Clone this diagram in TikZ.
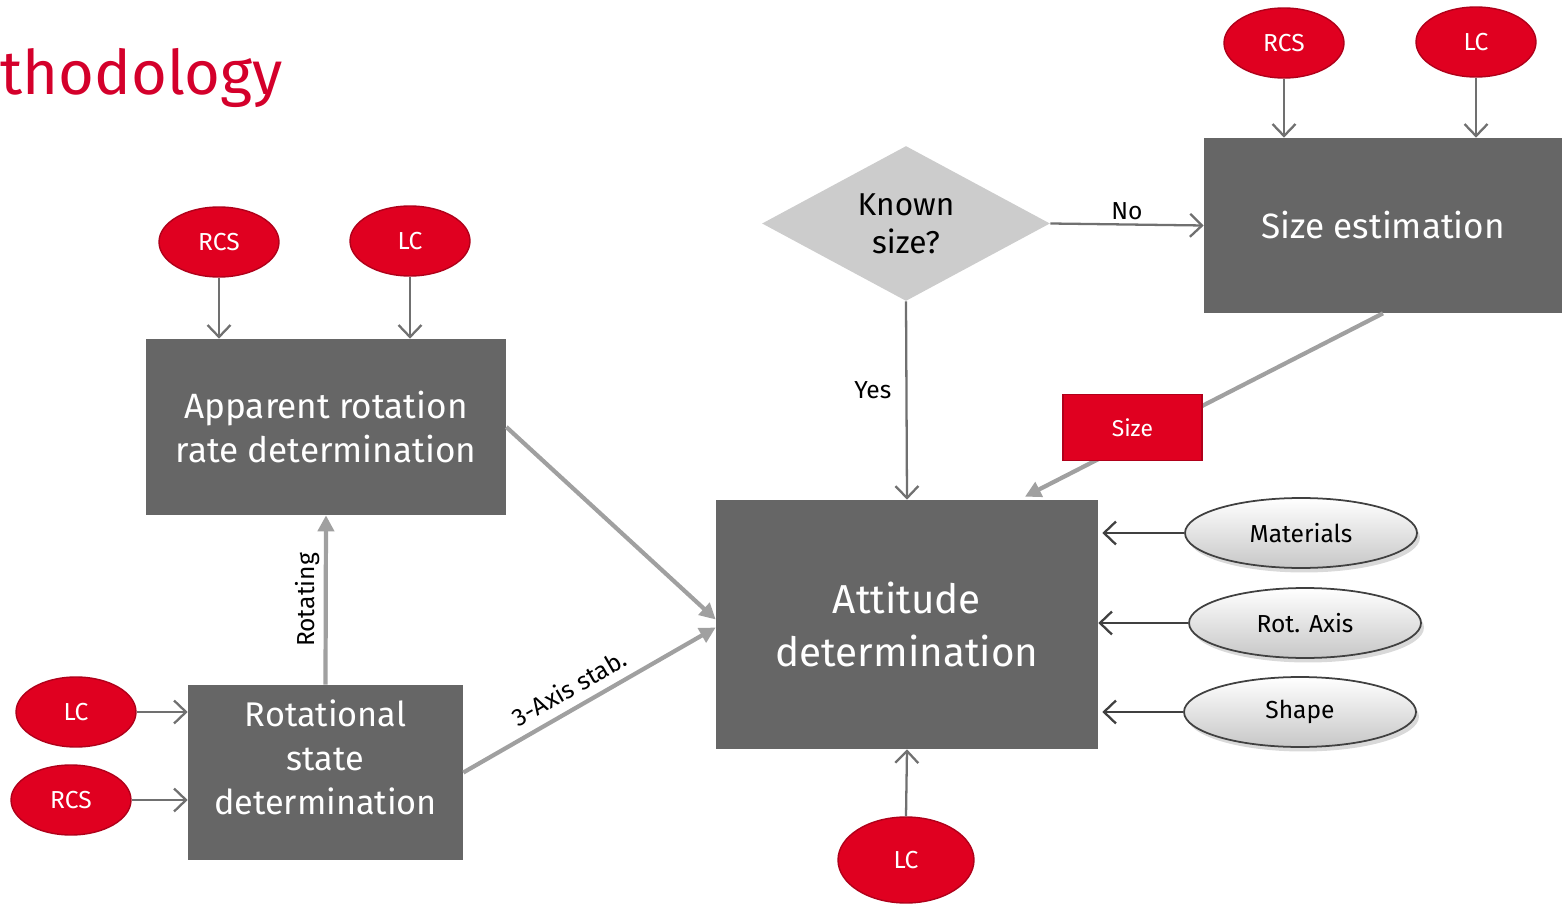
\documentclass[tikz,border=0pt]{standalone}
\usepackage{fontspec}
\setmainfont{Fira Sans}
\usetikzlibrary{shapes.geometric,arrows.meta,shadows}
\definecolor{boxgray}{HTML}{666666}
\definecolor{tagred}{HTML}{E00020}
\definecolor{tagedge}{HTML}{B0001A}
\definecolor{titlered}{HTML}{D4002B}
\definecolor{linegray}{HTML}{707070}
\definecolor{darkline}{HTML}{404040}
\definecolor{flowgray}{HTML}{A0A0A0}
\definecolor{diagray}{HTML}{CCCCCC}
\begin{document}
\begin{tikzpicture}[x=0.02cm,y=-0.02cm,
  stepbox/.style={fill=boxgray,text=white,align=center,inner sep=0pt,font=\fontsize{20}{25}\selectfont},
  tag/.style={ellipse,fill=tagred,draw=tagedge,line width=0.8pt,text=white,minimum width=2.4cm,minimum height=1.4cm,inner sep=0pt,font=\fontsize{14}{16}\selectfont},
  prop/.style={ellipse,top color=white,bottom color=black!22,draw=black!75,line width=1pt,minimum width=4.64cm,minimum height=1.4cm,inner sep=0pt,drop shadow={opacity=0.3,shadow xshift=0.6mm,shadow yshift=-0.9mm},font=\fontsize{14}{16}\selectfont},
  thin/.style={draw=linegray,line width=1.3pt,-{Straight Barb[length=2.4mm,width=4.6mm]}},
  dark/.style={draw=darkline,line width=1.3pt,-{Straight Barb[length=2.4mm,width=4.6mm]}},
  flow/.style={draw=flowgray,line width=2.4pt,-{Triangle[length=3.2mm,width=3.2mm]}},
  lbl/.style={font=\fontsize{14}{16}\selectfont,inner sep=2pt},
]
\useasboundingbox (0,0) rectangle (1562,905);

% title
\node[anchor=base west,text=titlered,inner sep=0pt,font=\fontsize{35}{38}\selectfont] (title) at (0,95) {thodology};

% main boxes
\node[stepbox,minimum width=7.2cm,minimum height=3.52cm] (app) at (326,427) {Apparent rotation\\rate determination};
\node[stepbox,minimum width=5.5cm,minimum height=3.5cm,
  label={[align=center,text=white,font=\fontsize{19.5}{25}\selectfont,yshift=0.3cm]center:Rotational\\state\\determination}] (rotst) at (325.5,772.5) {};
\node[stepbox,minimum width=7.64cm,minimum height=4.98cm,font=\fontsize{23}{30}\selectfont] (att) at (907,624.5) {Attitude\\determination};
\node[stepbox,minimum width=7.16cm,minimum height=3.5cm] (sizeest) at (1383,225.5) {Size estimation};
\node[diamond,fill=diagray,minimum width=5.76cm,minimum height=3.1cm,inner sep=0pt,
  label={[align=center,font=\fontsize{18}{21.5}\selectfont]center:Known\\size?}] (known) at (906,223.5) {};

% measurements
\node[tag] (rcsA) at (219,242) {RCS};
\node[tag] (lcA) at (410,241) {LC};
\node[tag] (lcB) at (76,712) {LC};
\node[tag] (rcsB) at (71,800) {RCS};
\node[tag] (rcsC) at (1284,43) {RCS};
\node[tag] (lcC) at (1476,42) {LC};
\node[tag,minimum width=2.72cm,minimum height=1.72cm] (lcD) at (906,860) {LC};

% properties
\node[prop] (mat) at (1301,533) {Materials};
\node[prop] (rotax) at (1305,623) {Rot. Axis};
\node[prop] (shape) at (1300,712) {Shape};

% connectors
\draw[thin] (rcsA.south) -- (rcsA.south |- app.north);
\draw[thin] (lcA.south) -- (lcA.south |- app.north);
\draw[thin] (lcB.east) -- (lcB.east -| rotst.west);
\draw[thin] (rcsB.east) -- (rcsB.east -| rotst.west);
\draw[thin] (rcsC.south) -- (rcsC.south |- sizeest.north);
\draw[thin] (lcC.south) -- (lcC.south |- sizeest.north);
\draw[thin] (lcD.north) -- (att.south);
\draw[thin] (known.east) -- node[lbl,above] {No} (sizeest.west);
\draw[thin] (known.south) -- node[lbl,left=6pt,pos=0.45] {Yes} (att.north);
\draw[dark] (mat.west) -- ([xshift=0.08cm]mat.west -| att.east);
\draw[dark] (rotax.west) -- (rotax.west -| att.east);
\draw[dark] (shape.west) -- ([xshift=0.08cm]shape.west -| att.east);
\draw[flow] (rotst.north) -- node[lbl,above,sloped] {Rotating} (app.south);
\draw[flow] (app.east) -- ([yshift=0.1cm]att.west);
\draw[flow] (rotst.east) -- node[lbl,above=3pt,sloped,pos=0.46] {3-Axis stab.} ([yshift=-0.06cm]att.west);
\draw[flow] (sizeest.south) -- node[pos=0.7,yshift=0.28cm,fill=tagred,draw=tagedge,line width=0.8pt,text=white,minimum width=2.78cm,minimum height=1.32cm,font=\fontsize{13}{15}\selectfont] (sizetag) {Size} ([xshift=2.36cm,yshift=0.06cm]att.north);
\end{tikzpicture}
\end{document}
